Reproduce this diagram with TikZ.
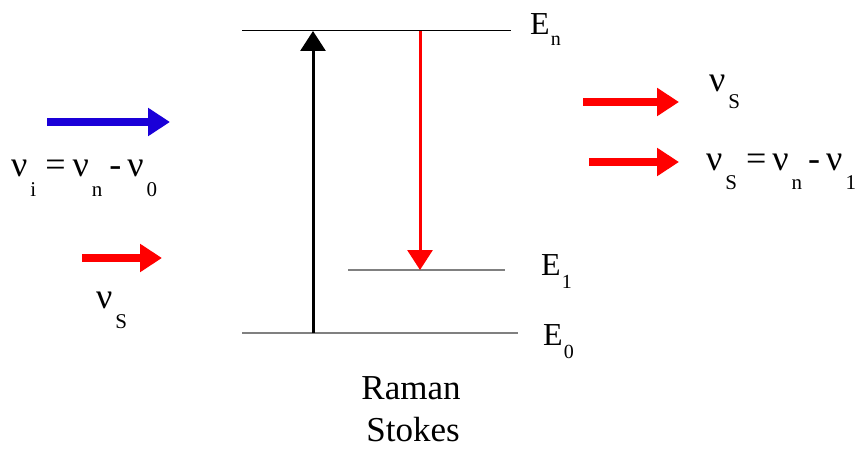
\documentclass[tikz,border=0pt]{standalone}
\usepackage{fontspec}
\setmainfont{Liberation Serif}
\newfontfamily\timesfont{Liberation Serif}
\usetikzlibrary{arrows.meta}
\definecolor{photonblue}{RGB}{26,0,216}
\definecolor{levelgray}{RGB}{128,128,128}
\newcommand\lowsub[2][19pt]{\kern3pt\raisebox{-#1}{\timesfont\fontsize{21}{21}\selectfont #2}}
\newcommand\elowsub[2][13pt]{\kern1pt\raisebox{-#1}{\timesfont\fontsize{20}{20}\selectfont #2}}
\tikzset{
  lbl/.style={anchor=base west, inner sep=0pt, font=\timesfont\fontsize{36}{36}\selectfont},
  elbl/.style={anchor=base west, inner sep=0pt, font=\timesfont\fontsize{32}{32}\selectfont},
  caption/.style={anchor=base, inner sep=0pt, font=\timesfont\fontsize{35}{35}\selectfont},
  level/.style={draw=levelgray, line width=1.3pt},
  toplevel/.style={draw=black, line width=1pt},
  trans/.style={line width=3pt, -{Triangle[length=20pt,width=25pt]}},
  photon/.style={line width=8pt, -{Triangle[length=22pt,width=27pt]}},
}
\begin{document}
\begin{tikzpicture}[x=1pt,y=-1pt]
\useasboundingbox (0,0) rectangle (861,449);
% levels
\coordinate (en-l) at (242,31); \coordinate (en-r) at (511,31);
\coordinate (e1-l) at (348,270); \coordinate (e1-r) at (505,270);
\coordinate (e0-l) at (242,333); \coordinate (e0-r) at (518,333);
\draw[toplevel] (en-l) -- (en-r);
\draw[level] (e1-l) -- (e1-r);
\draw[level] (e0-l) -- (e0-r);
% transitions
\coordinate (up-s) at (313,333); \coordinate (up-e) at (313,31);
\coordinate (dn-s) at (420,31); \coordinate (dn-e) at (420,270);
\draw[trans, black] (up-s) -- (up-e);
\draw[trans, red] (dn-s) -- (dn-e);
% photons
\coordinate (b-s) at (47,122); \coordinate (b-e) at (170,122);
\draw[photon, photonblue] (b-s) -- (b-e);
\coordinate (l-s) at (82,258); \coordinate (l-e) at (162,258);
\draw[photon, red] (l-s) -- (l-e);
\coordinate (r1-s) at (583,102); \coordinate (r1-e) at (679,102);
\draw[photon, red] (r1-s) -- (r1-e);
\coordinate (r2-s) at (589,162); \coordinate (r2-e) at (679,162);
\draw[photon, red] (r2-s) -- (r2-e);
% labels
\node[elbl] (En) at (530,35) {E\elowsub[11pt]{n}};
\node[elbl] (E1) at (541,275) {E\elowsub{1}};
\node[elbl] (E0) at (543,345) {E\elowsub{0}};
\node[lbl] (nui) at (11,177) {ν\lowsub{i}\hspace{9pt}=\hspace{7pt}ν\lowsub{n}\hspace{7pt}-\hspace{6pt}ν\lowsub{0}};
\node[lbl] (nusl) at (96,308) {ν\lowsub[20pt]{S}};
\node[lbl] (nusr) at (709,92) {ν\lowsub[17pt]{S}};
\node[lbl] (nusr2) at (706,171) {ν\lowsub{S}\hspace{9pt}=\hspace{6pt}ν\lowsub{n}\hspace{6pt}-\hspace{6pt}ν\lowsub{1}};
\node[caption] (raman) at (411,399) {Raman};
\node[caption] (stokes) at (413,441) {Stokes};
\end{tikzpicture}
\end{document}
